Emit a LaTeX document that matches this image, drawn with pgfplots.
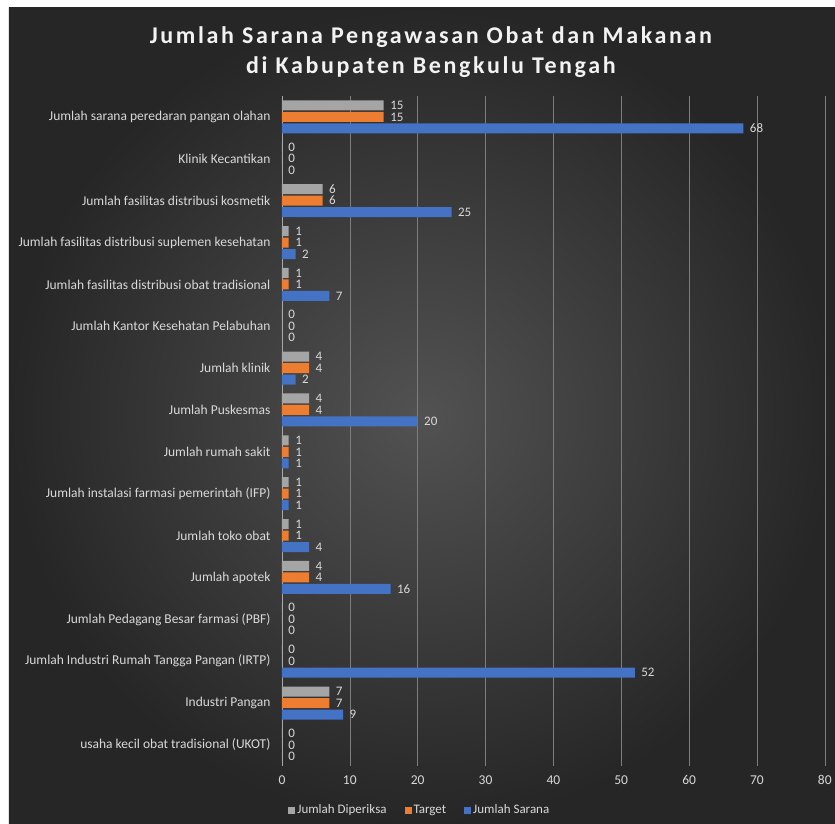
\documentclass[border=0pt]{standalone}
\usepackage{pgfplots}
\pgfplotsset{compat=1.18}
\usepackage{fontspec}
\setmainfont{Carlito}
\newfontfamily\titlefont[LetterSpace=11]{Carlito}
\definecolor{cgray}{HTML}{A5A5A5}
\definecolor{corange}{HTML}{ED7D31}
\definecolor{cblue}{HTML}{4472C4}
\definecolor{txt}{HTML}{D9D9D9}
\definecolor{bgin}{HTML}{525252}
\definecolor{bgout}{HTML}{262626}
\begin{document}
\begin{tikzpicture}[x=1pt,y=1pt]
\fill[white] (0,0) rectangle (835,824);
\shade[inner color=bgin, outer color=bgout] (9,0) rectangle (835,816);
\node[font=\titlefont\bfseries\fontsize{24}{30}\selectfont, text=white!95!black, align=center] at (431,772) {Jumlah Sarana Pengawasan Obat dan Makanan\\di Kabupaten Bengkulu Tengah};
\begin{axis}[
  at={(282pt,58pt)}, anchor=south west,
  scale only axis, width=543pt, height=670pt,
  xbar=1.5pt, bar width=10pt,
  xmin=0, xmax=80, xtick={0,10,...,80},
  ymin=-0.5, ymax=15.5, y dir=reverse,
  ytick={0,...,15},
  yticklabels={Jumlah sarana peredaran pangan olahan, Klinik Kecantikan, Jumlah fasilitas distribusi kosmetik, Jumlah fasilitas distribusi suplemen kesehatan, Jumlah fasilitas distribusi obat tradisional, Jumlah Kantor Kesehatan Pelabuhan, Jumlah klinik, Jumlah Puskesmas, Jumlah rumah sakit, Jumlah instalasi farmasi pemerintah (IFP), Jumlah toko obat, Jumlah apotek, Jumlah Pedagang Besar farmasi (PBF), Jumlah Industri Rumah Tangga Pangan (IRTP), Industri Pangan, usaha kecil obat tradisional (UKOT)},
  axis line style={draw=none},
  major tick length=0pt,
  xmajorgrids, grid style={draw=white!40!bgout, line width=0.6pt},
  extra x ticks={0}, extra x tick labels={},
  extra x tick style={grid style={draw=white!60!bgout, line width=0.8pt}},
  ticklabel style={text=txt, font=\fontsize{13.5}{15}\selectfont},
  /pgf/number format/assume math mode=true,
  xticklabel style={yshift=-6pt},
  yticklabel style={xshift=-8pt},
  nodes near coords,
  every node near coord/.append style={text=txt, font=\fontsize{13}{12}\selectfont, xshift=3pt, inner ysep=0pt},
  legend columns=3, reverse legend,
  legend style={at={(0.254,-0.066)}, anchor=center, draw=none, fill=none, text=txt, font=\fontsize{13}{15}\selectfont, /tikz/every even column/.append style={column sep=16pt}},
  legend image code/.code={\fill[#1,draw=none] (-2pt,-3.5pt) rectangle (5pt,3.5pt);},
]
\addplot[fill=cblue, draw=none] coordinates {(68,0) (0,1) (25,2) (2,3) (7,4) (0,5) (2,6) (20,7) (1,8) (1,9) (4,10) (16,11) (0,12) (52,13) (9,14) (0,15)};
\addplot[fill=corange, draw=none] coordinates {(15,0) (0,1) (6,2) (1,3) (1,4) (0,5) (4,6) (4,7) (1,8) (1,9) (1,10) (4,11) (0,12) (0,13) (7,14) (0,15)};
\addplot[fill=cgray, draw=none] coordinates {(15,0) (0,1) (6,2) (1,3) (1,4) (0,5) (4,6) (4,7) (1,8) (1,9) (1,10) (4,11) (0,12) (0,13) (7,14) (0,15)};
\legend{Jumlah Sarana, Target, Jumlah Diperiksa}
\end{axis}
\end{tikzpicture}
\end{document}
